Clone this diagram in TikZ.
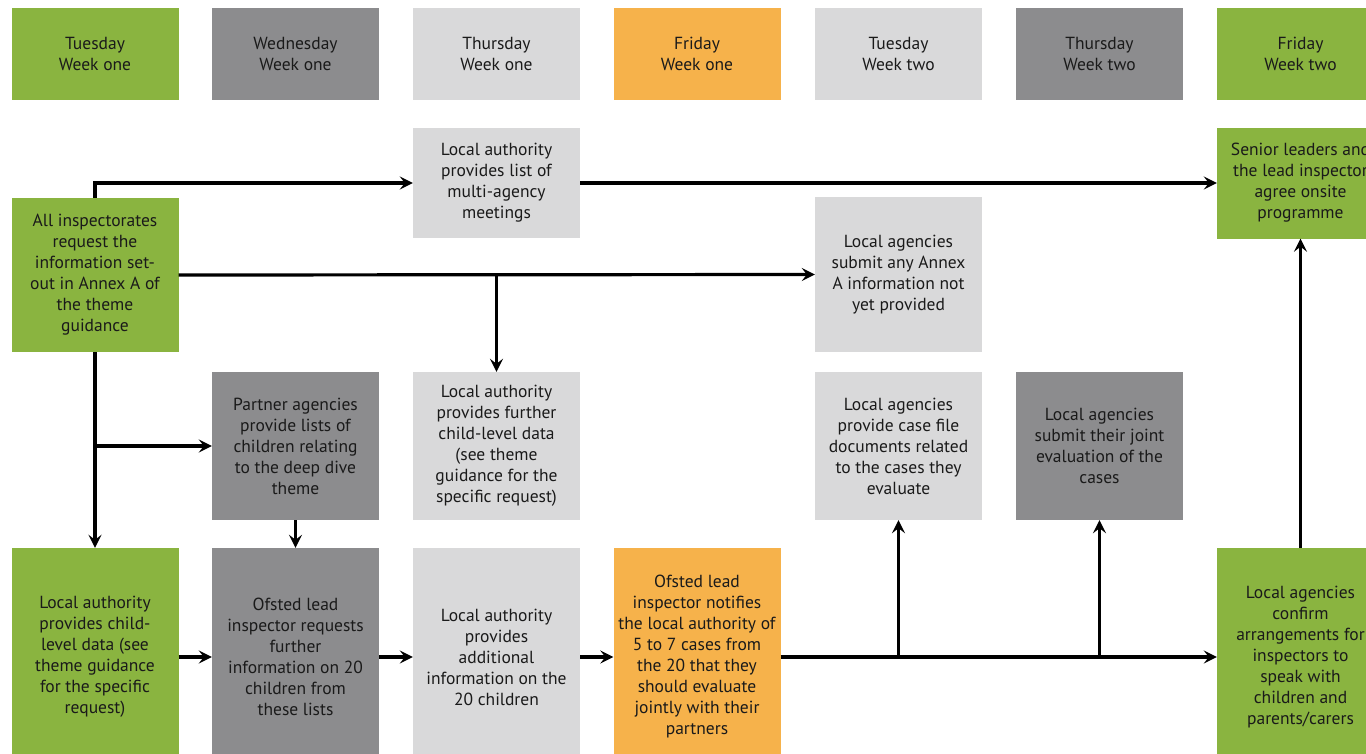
\documentclass[tikz,border=0pt]{standalone}
\usepackage{fontspec}
\setmainfont{PT Sans}
\usetikzlibrary{arrows.meta}
\definecolor{cgreen}{HTML}{8AB440}
\definecolor{cdark}{HTML}{8C8C8E}
\definecolor{clight}{HTML}{D9D9DA}
\definecolor{corange}{HTML}{F6B24B}
\definecolor{ctext}{HTML}{1A1A1A}
\tikzset{
  box/.style={rectangle, draw=none, minimum width=167pt, inner sep=2pt, align=center,
    text=ctext, font=\fontsize{17.5}{21}\selectfont},
  green/.style={box, fill=cgreen},
  dark/.style={box, fill=cdark},
  light/.style={box, fill=clight},
  orange/.style={box, fill=corange},
  arr/.style={line width=3.2pt, -{Stealth[length=13pt, width=13pt, inset=5pt]}},
  ln/.style={line width=3.2pt}
}
\begin{document}
\begin{tikzpicture}[x=1pt, y=-1pt]
\useasboundingbox (0,0) rectangle (1366,753);
\clip (0,0) rectangle (1366,753);
\fill[white] (0,0) rectangle (1366,753);
% header row
\node[green,  minimum height=92pt] (h1) at (95,54)     {Tuesday\\Week one};
\node[dark,   minimum height=92pt] (h2) at (295.5,54)  {Wednesday\\Week one};
\node[light,  minimum height=92pt] (h3) at (496.5,54)  {Thursday\\Week one};
\node[orange, minimum height=92pt] (h4) at (697,54)    {Friday\\Week one};
\node[light,  minimum height=92pt] (h5) at (898.5,54)  {Tuesday\\Week two};
\node[dark,   minimum height=92pt] (h6) at (1099.5,54) {Thursday\\Week two};
\node[green,  minimum height=92pt] (h7) at (1300.5,54) {Friday\\Week two};
% upper nodes
\node[green, minimum height=154pt] (ai) at (95,275) {All inspectorates\\request the\\information set-\\out in Annex A of\\the theme\\guidance};
\node[light, minimum height=110pt] (lm) at (496.5,183) {Local authority\\provides list of\\multi-agency\\meetings};
\node[green, minimum height=111pt] (sl) at (1300.5,183) {Senior leaders and\\the lead inspector\\agree onsite\\programme};
\node[light, minimum height=155pt] (ax) at (898.5,274.5) {Local agencies\\submit any Annex\\A information not\\yet provided};
% middle row
\node[dark,  minimum height=148pt] (pa) at (295.5,446) {Partner agencies\\provide lists of\\children relating\\to the deep dive\\theme};
\node[light, minimum height=148pt] (fc) at (496.5,446) {Local authority\\provides further\\child-level data\\(see theme\\guidance for the\\specific request)};
\node[light, minimum height=148pt] (cf) at (898.5,446) {Local agencies\\provide case file\\documents related\\to the cases they\\evaluate};
\node[dark,  minimum height=148pt] (je) at (1099.5,446) {Local agencies\\submit their joint\\evaluation of the\\cases};
% bottom row
\node[green,  minimum height=218pt] (cl) at (95,657) {Local authority\\provides child-\\level data (see\\theme guidance\\for the specific\\request)};
\node[dark,   minimum height=218pt] (oi) at (295.5,657) {Ofsted lead\\inspector requests\\further\\information on 20\\children from\\these lists};
\node[light,  minimum height=218pt] (ad) at (496.5,657) {Local authority\\provides\\additional\\information on the\\20 children};
\node[orange, minimum height=218pt] (nt) at (697,657) {Ofsted lead\\inspector notifies\\the local authority of\\5 to 7 cases from\\the 20 that they\\should evaluate\\jointly with their\\partners};
\node[green,  minimum height=218pt] (ca) at (1300.5,657) {Local agencies\\confirm\\arrangements for\\inspectors to\\speak with\\children and\\parents/carers};
% connectors
\draw[arr] (ai.north) |- (lm.west);
\draw[arr] (lm.east) -- (sl.west);
\draw[arr] (ai.east) -- (ax.west);
\draw[arr] (ai.east -| fc.north) -- (fc.north);
\draw[arr] (ai.south) -- (cl.north);
\draw[arr] (ai.south |- pa.west) -- (pa.west);
\draw[arr] (pa.south) -- (oi.north);
\draw[arr] (cl.east) -- (oi.west);
\draw[arr] (oi.east) -- (ad.west);
\draw[arr] (ad.east) -- (nt.west);
\draw[arr] (nt.east) -- (ca.west);
\draw[arr] (nt.east -| cf.south) -- (cf.south);
\draw[arr] (nt.east -| je.south) -- (je.south);
\draw[arr] (ca.north) -- (sl.south);
\end{tikzpicture}
\end{document}
